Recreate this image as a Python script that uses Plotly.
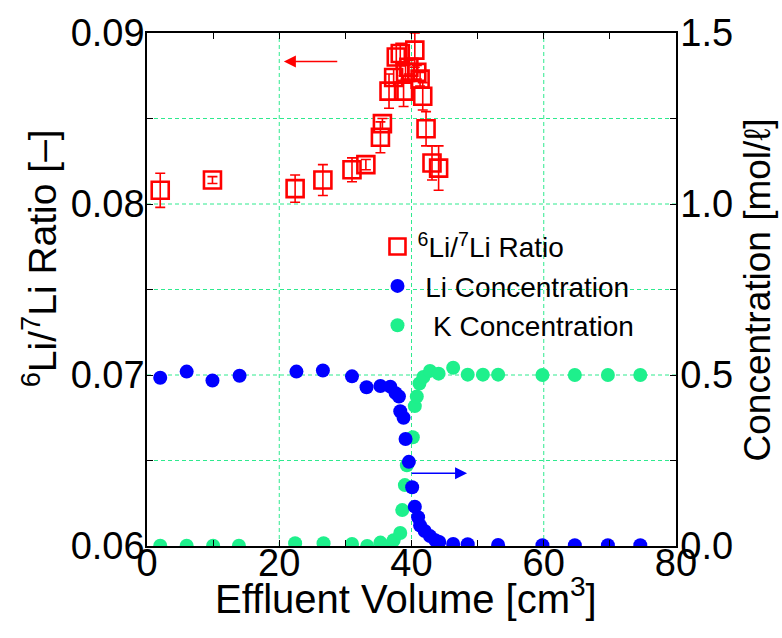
import plotly.graph_objects as go

# ---- data ----
ratio_x = [2.0, 9.9, 22.4, 26.6, 31.0, 33.1, 35.3, 35.6, 36.6, 37.3, 37.7, 38.3, 38.8, 39.1, 39.6,
           40.5, 40.8, 41.3, 41.7, 42.2, 43.1, 44.1]
ratio_y = [0.0808, 0.0814, 0.0809, 0.0814, 0.0820, 0.0823, 0.0839, 0.0847, 0.0866, 0.0874, 0.0886,
           0.0888, 0.0866, 0.0877, 0.0880, 0.0890, 0.0877, 0.0873, 0.0863, 0.0844, 0.0824, 0.0821]
ratio_err = [0.0010, 0.0002, 0.0008, 0.0009, 0.0007, 0.0003, 0.0009, 0.0003, 0.0010, 0.0005, 0.0007,
             0.0006, 0.0009, 0.0004, 0.0004, 0.0010, 0.0004, 0.0004, 0.0008, 0.0010, 0.0010, 0.0013]

li_x = [2.0, 6.0, 9.9, 14.0, 22.6, 26.6, 31.0, 33.2, 35.3, 36.8, 37.6, 38.1, 38.3, 38.8, 39.1, 39.6,
        40.1, 40.5, 41.0, 41.3, 42.0, 42.8, 43.6, 44.2, 46.3, 48.5, 53.1, 59.8, 64.7, 69.7, 74.6]
li_y = [0.492, 0.510, 0.484, 0.498, 0.510, 0.513, 0.496, 0.464, 0.468, 0.466, 0.447, 0.437, 0.394,
        0.375, 0.313, 0.246, 0.172, 0.115, 0.084, 0.060, 0.044, 0.029, 0.017, 0.012, 0.006, 0.005,
        0.003, 0.002, 0.002, 0.002, 0.002]

k_x = [2.0, 6.0, 10.0, 13.9, 22.4, 26.7, 31.0, 33.3, 35.3, 36.6, 37.3, 38.3, 38.6, 39.0, 39.3, 40.2,
       40.5, 40.8, 41.2, 41.8, 42.8, 44.1, 46.3, 48.5, 50.8, 53.1, 59.8, 64.7, 69.7, 74.6]
k_y = [0.001, 0.001, 0.001, 0.001, 0.008, 0.008, 0.006, 0.0, 0.010, 0.0, 0.017, 0.038, 0.105, 0.178,
       0.236, 0.318, 0.409, 0.437, 0.475, 0.494, 0.512, 0.504, 0.521, 0.501, 0.501, 0.501, 0.500,
       0.500, 0.500, 0.500]

x_ticks = [0, 20, 40, 60, 80]
x_grid = [20, 40, 60]
y_ticks = [0.06, 0.065, 0.07, 0.075, 0.08, 0.085, 0.09]
y_text = ["0.06", "", "0.07", "", "0.08", "", "0.09"]
y_grid = [0.065, 0.07, 0.075, 0.08, 0.085]
y2_ticks = [0, 0.25, 0.5, 0.75, 1.0, 1.25, 1.5]
y2_text = ["0.0", "", "0.5", "", "1.0", "", "1.5"]

FONT = "Liberation Sans, Arial, sans-serif"
GREEN = "#1EF08C"
GRID = "#2EEA8E"
NB = "\u00a0"
fig = go.Figure()

fig.add_trace(go.Scatter(x=k_x, y=k_y, yaxis="y2", mode="markers", name=NB * 2 + "K Concentration",
                         marker=dict(color=GREEN, size=14), legendrank=3))
fig.add_trace(go.Scatter(x=li_x, y=li_y, yaxis="y2", mode="markers", name=NB + "Li Concentration",
                         marker=dict(color="#0000FF", size=14), legendrank=2))
fig.add_trace(go.Scatter(x=ratio_x, y=ratio_y, mode="markers",
                         name="<sup>6</sup>Li/<sup>7</sup>Li Ratio",
                         marker=dict(symbol="square-open", color="#FF0000", size=17,
                                     line=dict(width=2.6, color="#FF0000")),
                         error_y=dict(type="data", array=ratio_err, color="#FF0000",
                                      thickness=1.6, width=5),
                         legendrank=1))

axis_common = dict(showline=True, linecolor="black", linewidth=1.5, ticks="inside",
                   ticklen=6, tickcolor="black", tickfont=dict(size=38, family=FONT, color="black"),
                   zeroline=False, showgrid=False)

fig.update_layout(
    width=782, height=638,
    margin=dict(l=147, r=106, t=21, b=92),
    paper_bgcolor="white", plot_bgcolor="white",
    font=dict(family=FONT, color="black"),
    showlegend=True,
    legend=dict(x=0.4357, y=0.632, xanchor="left", yanchor="top",
                bgcolor="rgba(0,0,0,0)", borderwidth=0,
                font=dict(size=28, family=FONT, color="black"), itemsizing="trace"),
    xaxis=dict(range=[0, 80], tickvals=x_ticks, mirror="ticks", ticklabelstandoff=-17,
               minor=dict(dtick=10, ticks="inside", ticklen=6, tickcolor="black", showgrid=False),
               **axis_common),
    yaxis=dict(range=[0.06, 0.09], tickvals=y_ticks, ticktext=y_text, ticklabelstandoff=-7,
               **axis_common),
    yaxis2=dict(range=[0, 1.5], tickvals=y2_ticks, ticktext=y2_text, overlaying="y",
                side="right", ticklabelstandoff=-5, **axis_common),
)

# dashed grid lines
for gx in x_grid:
    fig.add_shape(type="line", xref="x", yref="paper", x0=gx, x1=gx, y0=0, y1=1, layer="below",
                  line=dict(color=GRID, width=1, dash="4px,3px"))
for gy in y_grid:
    fig.add_shape(type="line", xref="paper", yref="y", x0=0, x1=1, y0=gy, y1=gy, layer="below",
                  line=dict(color=GRID, width=1, dash="4px,3px"))

# axis titles
fig.add_annotation(text="Effluent Volume [cm<sup>3</sup>]", xref="paper", yref="paper",
                   x=0.49, y=-0.097, xanchor="center", yanchor="middle", showarrow=False,
                   font=dict(size=40, family=FONT, color="black"))
fig.add_annotation(text="<sup>6</sup>Li/<sup>7</sup>Li Ratio [\u2013]", xref="paper", yref="paper",
                   x=-0.203, y=0.56, xanchor="center", yanchor="middle", textangle=-90,
                   showarrow=False, font=dict(size=39, family=FONT, color="black"))
fig.add_annotation(text="Concentration [mol/\u2113]", xref="paper", yref="paper",
                   x=1.155, y=0.50, xanchor="center", yanchor="middle", textangle=-90,
                   showarrow=False, font=dict(size=37, family=FONT, color="black"))

# arrows
fig.add_annotation(x=20.7, y=0.08834, ax=29.0, ay=0.08834, xref="x", yref="y", axref="x", ayref="y",
                   text="", showarrow=True, arrowhead=2, arrowsize=1.6, arrowwidth=1.5,
                   arrowcolor="#FF0000")
fig.add_annotation(x=48.4, y=0.2127, ax=39.8, ay=0.2127, xref="x", yref="y2", axref="x", ayref="y2",
                   text="", showarrow=True, arrowhead=2, arrowsize=1.6, arrowwidth=1.5,
                   arrowcolor="#0000FF")

fig.write_html("out.html")
